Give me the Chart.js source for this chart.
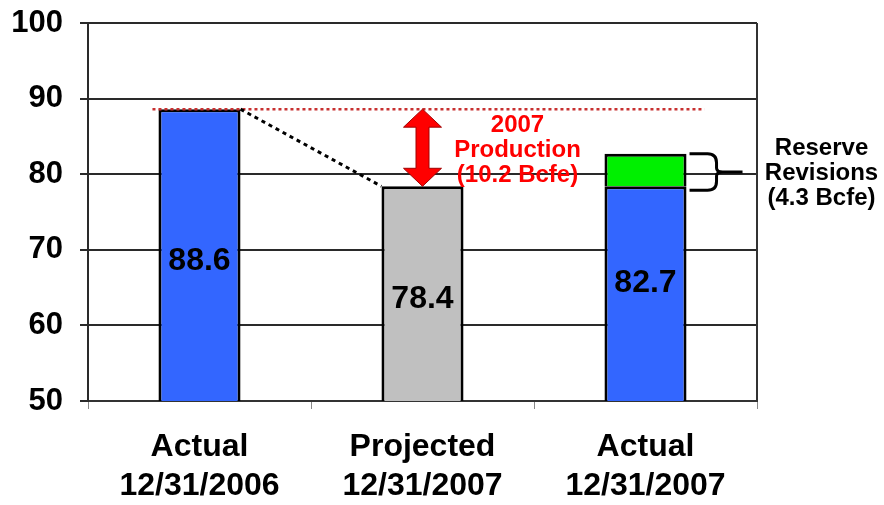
<!DOCTYPE html>
<html>
<head>
<meta charset="utf-8">
<script src="https://cdn.jsdelivr.net/npm/chart.js@4.4.1/dist/chart.umd.min.js"></script>
<style>
  html, body { margin: 0; padding: 0; background: #fff; }
  #wrap { width: 884px; height: 505px; }
</style>
</head>
<body>
<div id="wrap"><canvas id="c" width="884" height="505"></canvas></div>
<script>
// Reserve reconciliation (Bcfe)
const categories = [['Actual', '12/31/2006'], ['Projected', '12/31/2007'], ['Actual', '12/31/2007']];
const baseValues = [88.6, 78.4, 78.4];
const revisionValues = [null, null, 4.3];
const baseColors = ['#3366FF', '#C0C0C0', '#3366FF'];
const yTicks = [50, 60, 70, 80, 90, 100];
const productionLabel = ['2007', 'Production', '(10.2 Bcfe)'];
const revisionLabel = ['Reserve', 'Revisions', '(4.3 Bcfe)'];

const totals = baseValues.map((v, i) => v + (revisionValues[i] || 0));

const FONT = '"Liberation Sans", Arial, sans-serif';

const overlay = {
  id: 'overlay',
  beforeDatasetsDraw(chart) {
    // right edge of the plot frame
    const { ctx, chartArea } = chart;
    ctx.save();
    ctx.strokeStyle = '#333';
    ctx.lineWidth = 2;
    ctx.beginPath();
    ctx.moveTo(chartArea.right, chartArea.top);
    ctx.lineTo(chartArea.right, chartArea.bottom);
    ctx.stroke();
    ctx.restore();
  },
  afterDatasetsDraw(chart) {
    const { ctx, scales } = chart;
    const y = scales.y;
    const bars = chart.getDatasetMeta(0).data;
    const tops = chart.getDatasetMeta(1).data;
    const half = bars[0].width / 2;
    const startY = y.getPixelForValue(baseValues[0]);
    const projY = y.getPixelForValue(baseValues[1]);

    ctx.save();

    // value labels inside the bars
    ctx.fillStyle = '#000';
    ctx.font = 'bold 32px ' + FONT;
    ctx.textAlign = 'center';
    ctx.textBaseline = 'middle';
    bars.forEach((b, i) => {
      const yTop = y.getPixelForValue(totals[i]);
      const yBot = y.getPixelForValue(y.min);
      ctx.fillText(totals[i].toFixed(1), b.x, (yTop + yBot) / 2 + 6);
    });

    // red dotted reference line at the starting level
    ctx.strokeStyle = '#C83030';
    ctx.lineWidth = 2.5;
    ctx.setLineDash([3, 3]);
    ctx.beginPath();
    ctx.moveTo(bars[0].x - half - 6, startY);
    ctx.lineTo(bars[2].x + half + 18, startY);
    ctx.stroke();

    // black dotted connector from start to projection
    ctx.strokeStyle = '#000';
    ctx.lineWidth = 3;
    ctx.setLineDash([4, 4]);
    ctx.beginPath();
    ctx.moveTo(bars[0].x + half, startY);
    ctx.lineTo(bars[1].x - half, projY);
    ctx.stroke();
    ctx.setLineDash([]);

    // double-headed production arrow
    const ax = bars[1].x;
    const shaft = 6.5, head = 19, headLen = 18;
    ctx.beginPath();
    ctx.moveTo(ax, startY);
    ctx.lineTo(ax + head, startY + headLen);
    ctx.lineTo(ax + shaft, startY + headLen);
    ctx.lineTo(ax + shaft, projY - headLen);
    ctx.lineTo(ax + head, projY - headLen);
    ctx.lineTo(ax, projY);
    ctx.lineTo(ax - head, projY - headLen);
    ctx.lineTo(ax - shaft, projY - headLen);
    ctx.lineTo(ax - shaft, startY + headLen);
    ctx.lineTo(ax - head, startY + headLen);
    ctx.closePath();
    ctx.fillStyle = '#FF0000';
    ctx.fill();
    ctx.strokeStyle = '#A00000';
    ctx.lineWidth = 1;
    ctx.stroke();

    // production text
    ctx.fillStyle = '#FF0000';
    ctx.font = 'bold 24px ' + FONT;
    const midY = (startY + projY) / 2 + 3;
    productionLabel.forEach((t, i) => {
      ctx.fillText(t, ax + 95, midY + (i - 1) * 25);
    });

    // brace beside the revision segment
    const g = tops[2];
    const bTop = y.getPixelForValue(totals[2]);
    const bBot = y.getPixelForValue(baseValues[2]) + 4;
    const bMid = (bTop + bBot) / 2;
    const x0 = g.x + half + 3;
    const xv = x0 + 27;
    const xp = x0 + 53;
    ctx.strokeStyle = '#000';
    ctx.lineWidth = 3;
    ctx.beginPath();
    ctx.moveTo(x0, bTop);
    ctx.lineTo(xv - 9, bTop);
    ctx.quadraticCurveTo(xv, bTop, xv, bTop + 9);
    ctx.lineTo(xv, bMid - 4);
    ctx.quadraticCurveTo(xv, bMid, xv + 6, bMid);
    ctx.lineTo(xp, bMid);
    ctx.moveTo(xv + 6, bMid);
    ctx.quadraticCurveTo(xv, bMid, xv, bMid + 4);
    ctx.lineTo(xv, bBot - 9);
    ctx.quadraticCurveTo(xv, bBot, xv - 9, bBot);
    ctx.lineTo(x0, bBot);
    ctx.stroke();

    // revision text
    ctx.fillStyle = '#000';
    ctx.font = 'bold 24px ' + FONT;
    revisionLabel.forEach((t, i) => {
      ctx.fillText(t, g.x + half + 135, bMid + 1 + (i - 1) * 25);
    });

    ctx.restore();
  }
};

new Chart(document.getElementById('c'), {
  type: 'bar',
  data: {
    labels: categories,
    datasets: [
      {
        label: 'Reserves',
        data: baseValues,
        backgroundColor: baseColors,
        borderColor: '#000',
        borderWidth: 3,
        barPercentage: 0.368,
        categoryPercentage: 1
      },
      {
        label: 'Revisions',
        data: revisionValues,
        backgroundColor: '#00F000',
        borderColor: '#000',
        borderWidth: 3,
        barPercentage: 0.368,
        categoryPercentage: 1
      }
    ]
  },
  options: {
    responsive: false,
    animation: false,
    devicePixelRatio: 1,
    layout: { padding: { top: 23, right: 127, left: 0, bottom: 0 } },
    plugins: {
      legend: { display: false },
      tooltip: { enabled: false }
    },
    scales: {
      x: {
        stacked: true,
        offset: true,
        grid: {
          offset: true,
          drawOnChartArea: false,
          drawTicks: true,
          tickLength: 8,
          color: '#888',
          lineWidth: 1
        },
        border: { display: true, color: '#333', width: 2 },
        ticks: {
          padding: 19,
          color: '#000',
          maxRotation: 0,
          font: { family: FONT, size: 32, weight: 'bold', lineHeight: 1.22 }
        },
        afterFit(s) { s.height = 104; }
      },
      y: {
        stacked: true,
        min: 50,
        max: 100,
        afterBuildTicks(s) { s.ticks = yTicks.map(v => ({ value: v })); },
        grid: {
          color: '#2a2a2a',
          lineWidth: 2,
          tickLength: 8
        },
        border: { display: true, color: '#2a2a2a', width: 2 },
        ticks: {
          padding: 17,
          color: '#000',
          font: { family: FONT, size: 31, weight: 'bold' }
        },
        afterFit(s) {
          s.width = 88;
          s.paddingTop = 0;
          s.paddingBottom = 0;
        }
      }
    }
  },
  plugins: [overlay]
});
</script>
</body>
</html>
